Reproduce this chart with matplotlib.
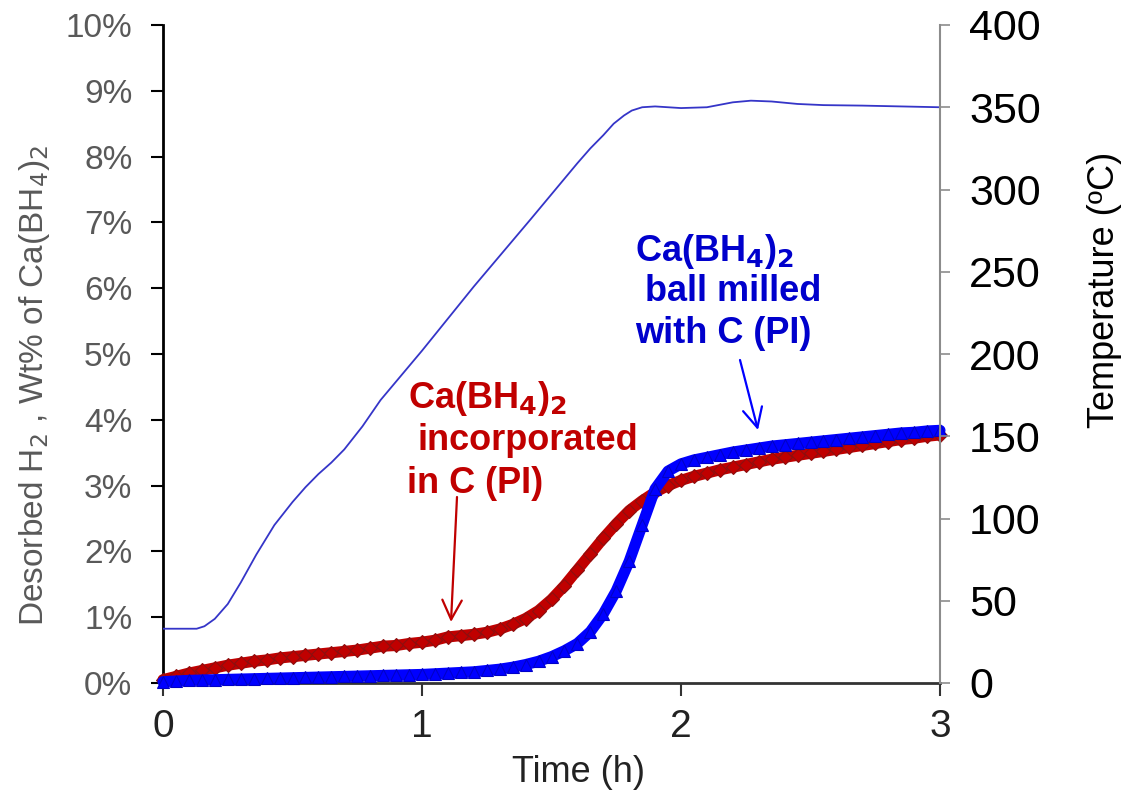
import matplotlib
matplotlib.use("Agg")
import matplotlib.pyplot as plt

# ---------------- data ----------------
time_h = [0.00, 0.05, 0.10, 0.15, 0.20, 0.25, 0.30, 0.35, 0.40, 0.45,
          0.50, 0.55, 0.60, 0.65, 0.70, 0.75, 0.80, 0.85, 0.90, 0.95,
          1.00, 1.05, 1.10, 1.15, 1.20, 1.25, 1.30, 1.35, 1.40, 1.45,
          1.50, 1.55, 1.60, 1.65, 1.70, 1.75, 1.80, 1.85, 1.90, 1.95,
          2.00, 2.05, 2.10, 2.15, 2.20, 2.25, 2.30, 2.35, 2.40, 2.45,
          2.50, 2.55, 2.60, 2.65, 2.70, 2.75, 2.80, 2.85, 2.90, 2.95, 3.00]

# Ca(BH4)2 incorporated in C (PI)  -- wt% H2
incorporated = [0.05, 0.10, 0.15, 0.19, 0.23, 0.27, 0.30, 0.33, 0.35, 0.38,
                0.40, 0.42, 0.44, 0.46, 0.48, 0.50, 0.53, 0.56, 0.57, 0.60,
                0.62, 0.65, 0.70, 0.72, 0.74, 0.77, 0.82, 0.89, 0.98, 1.10,
                1.27, 1.48, 1.72, 1.96, 2.20, 2.42, 2.62, 2.77, 2.90, 3.00,
                3.08, 3.14, 3.19, 3.24, 3.28, 3.32, 3.36, 3.40, 3.43, 3.46,
                3.49, 3.52, 3.55, 3.58, 3.61, 3.64, 3.67, 3.70, 3.72, 3.75, 3.77]

# Ca(BH4)2 ball milled with C (PI)  -- wt% H2
ball_milled = [0.02, 0.03, 0.04, 0.045, 0.05, 0.055, 0.06, 0.065, 0.07, 0.075,
               0.08, 0.085, 0.09, 0.095, 0.10, 0.105, 0.11, 0.115, 0.12, 0.125,
               0.13, 0.14, 0.15, 0.16, 0.17, 0.19, 0.21, 0.24, 0.28, 0.33,
               0.40, 0.49, 0.60, 0.78, 1.05, 1.40, 1.85, 2.40, 2.95, 3.22,
               3.33, 3.39, 3.43, 3.47, 3.51, 3.54, 3.57, 3.60, 3.62, 3.64,
               3.66, 3.68, 3.70, 3.72, 3.74, 3.76, 3.78, 3.80, 3.81, 3.83, 3.84]

# Temperature profile
temp_time = [0.00, 0.13, 0.16, 0.20, 0.25, 0.30, 0.36, 0.43, 0.50, 0.55,
             0.60, 0.65, 0.70, 0.77, 0.84, 1.00, 1.20, 1.42, 1.60, 1.65,
             1.70, 1.74, 1.78, 1.81, 1.85, 1.90, 2.00, 2.10, 2.20, 2.27,
             2.35, 2.45, 2.55, 2.70, 3.00]
temperature = [33, 33, 34.5, 39, 48, 61, 78, 96, 110, 119,
               127, 134, 142, 156, 172, 202, 241, 282, 316, 325,
               333, 340, 345, 348, 350, 350.5, 349.5, 350, 353, 354,
               353.5, 352, 351.3, 351, 350]

x_ticks = [0, 1, 2, 3]
wt_ticks = [0, 1, 2, 3, 4, 5, 6, 7, 8, 9, 10]
wt_labels = ["0%", "1%", "2%", "3%", "4%", "5%", "6%", "7%", "8%", "9%", "10%"]
temp_ticks = [0, 50, 100, 150, 200, 250, 300, 350, 400]

# ---------------- figure ----------------
W, H = 1122, 793
fig = plt.figure(figsize=(W / 100, H / 100), dpi=100)
fig.patch.set_facecolor("white")

L, R, B, T = 163, 940, 683, 25
ax = fig.add_axes([L / W, 1 - B / H, (R - L) / W, (B - T) / H])
ax2 = ax.twinx()

arial = ["Liberation Sans", "DejaVu Sans"]

# series
ax.plot(time_h, incorporated, color="#C00000", lw=8, solid_capstyle="round",
        marker="D", ms=7, mfc="#C00000", mec="#8B1010", mew=0.8,
        clip_on=False, zorder=3)
ax.plot(time_h, ball_milled, color="#0000FF", lw=8, solid_capstyle="round",
        marker="^", ms=8, mfc="#0000FF", mec="#0000C8", mew=0.8,
        clip_on=False, zorder=4)
ax2.plot(temp_time, temperature, color="#3535C8", lw=1.3, zorder=2)

# axes limits and ticks
ax.set_xlim(0, 3)
ax.set_ylim(0, 10)
ax2.set_ylim(0, 400)

ax.set_xticks(x_ticks)
ax.set_xticklabels([str(v) for v in x_ticks], family=arial, fontsize=28,
                   color="#222222")
ax.set_yticks(wt_ticks)
ax.set_yticklabels(wt_labels, family=arial, fontsize=24, color="#595959")
ax2.set_yticks(temp_ticks)
ax2.set_yticklabels([str(v) for v in temp_ticks], family=arial, fontsize=31,
                    color="black")

ax.tick_params(axis="x", direction="out", length=9, width=1.5,
               color="#333333", pad=10)
ax.tick_params(axis="y", direction="out", length=9, width=1.5,
               color="black", pad=13)
ax2.tick_params(axis="y", direction="out", length=7, width=1.2,
                color="#8c8c8c", pad=14)

# spines
for a in (ax, ax2):
    a.spines["top"].set_visible(False)
ax.spines["right"].set_visible(False)
ax2.spines["left"].set_visible(False)
ax2.spines["bottom"].set_visible(False)
ax.spines["left"].set_linewidth(2)
ax.spines["left"].set_color("black")
ax.spines["bottom"].set_linewidth(2)
ax.spines["bottom"].set_color("#333333")
ax2.spines["right"].set_linewidth(1.5)
ax2.spines["right"].set_color("#8c8c8c")

# axis labels
ax.set_xlabel("Time (h)", family=arial, fontsize=26, color="#222222")
ax.xaxis.set_label_coords((578 - L) / (R - L), (B - 755) / (B - T))
ax.set_ylabel("Desorbed H$_2$ , Wt% of Ca(BH$_4$)$_2$", family=arial,
              fontsize=24, color="#595959")
ax.yaxis.set_label_coords((52 - L) / (R - L), (B - 385) / (B - T))
ax2.set_ylabel("Temperature (ºC)", family=arial, fontsize=26, color="black")
ax2.yaxis.set_label_coords((1087 - L) / (R - L), (B - 290) / (B - T))

# annotations
red_txt = "#C00000"
blue_txt = "#0000CC"
fs = 26


def ftext(x, y, s, color):
    fig.text(x / W, 1 - y / H, s, color=color, fontsize=fs, fontweight="bold",
             family=arial, ha="left", va="baseline")


ftext(408, 408, "Ca(BH$_\\mathbf{4}$)$_\\mathbf{2}$", red_txt)
ftext(417, 450, "incorporated", red_txt)
ftext(407, 493, "in C (PI)", red_txt)

ftext(635, 261, "Ca(BH$_\\mathbf{4}$)$_\\mathbf{2}$", blue_txt)
ftext(645, 301, "ball milled", blue_txt)
ftext(635, 343, "with C (PI)", blue_txt)

ax.annotate("", xy=(451, H - 622), xytext=(457, H - 497),
            xycoords="figure pixels", textcoords="figure pixels",
            arrowprops=dict(arrowstyle="->,head_length=0.7,head_width=0.35",
                            color="#C00000", lw=1.6, mutation_scale=20,
                            shrinkA=0, shrinkB=0))
ax.annotate("", xy=(758, H - 430), xytext=(740, H - 360),
            xycoords="figure pixels", textcoords="figure pixels",
            arrowprops=dict(arrowstyle="->,head_length=0.7,head_width=0.35",
                            color="#0000FF", lw=1.6, mutation_scale=20,
                            shrinkA=0, shrinkB=0))

fig.savefig("out.png", dpi=100, facecolor="white")
